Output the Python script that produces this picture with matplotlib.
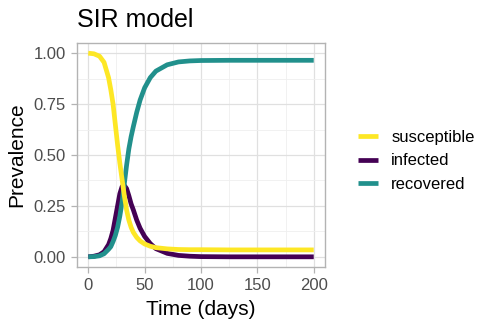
import matplotlib
matplotlib.use("Agg")
import matplotlib.pyplot as plt
from matplotlib.lines import Line2D

plt.rcParams['font.family'] = ['Liberation Sans', 'DejaVu Sans']

# values
days = [0, 5, 10, 14, 18, 20, 22, 24, 26, 28, 30, 32, 34, 36, 38, 40, 43, 46,
        50, 55, 60, 70, 80, 90, 100, 125, 150, 175, 200]
susceptible = [1.000, 0.997, 0.985, 0.955, 0.88, 0.82, 0.75, 0.65, 0.55, 0.46,
               0.38, 0.30, 0.23, 0.18, 0.145, 0.12, 0.095, 0.078, 0.063, 0.052,
               0.045, 0.039, 0.036, 0.035, 0.035, 0.034, 0.034, 0.034, 0.034]
infected = [0.000, 0.003, 0.010, 0.025, 0.06, 0.09, 0.13, 0.19, 0.25, 0.31,
            0.345, 0.35, 0.335, 0.30, 0.26, 0.23, 0.18, 0.14, 0.10, 0.065,
            0.04, 0.017, 0.007, 0.003, 0.001, 0.0, 0.0, 0.0, 0.0]
recovered = [0.000, 0.001, 0.005, 0.015, 0.037, 0.05, 0.075, 0.105, 0.145, 0.20,
             0.27, 0.36, 0.45, 0.53, 0.59, 0.64, 0.71, 0.77, 0.83, 0.88,
             0.912, 0.943, 0.957, 0.962, 0.964, 0.965, 0.965, 0.965, 0.965]

x_ticks = [0, 50, 100, 150, 200]
y_ticks = [0.00, 0.25, 0.50, 0.75, 1.00]

colors = {"infected": "#440154", "recovered": "#21908C", "susceptible": "#FDE725"}

fig = plt.figure(figsize=(4.79, 3.21), dpi=100)
ax = fig.add_axes([77 / 479, 54 / 321, 248 / 479, 224 / 321])

lw = 3.4
# drawn in factor order: infected, recovered, susceptible
ax.plot(days, infected, color=colors["infected"], lw=lw, solid_capstyle="butt")
ax.plot(days, recovered, color=colors["recovered"], lw=lw, solid_capstyle="butt")
ax.plot(days, susceptible, color=colors["susceptible"], lw=lw, solid_capstyle="butt")

ax.set_xlim(-10, 210)
ax.set_ylim(-0.05, 1.05)
ax.set_xticks(x_ticks)
ax.set_yticks(y_ticks)
ax.set_yticklabels([f"{v:.2f}" for v in y_ticks])
ax.set_xticks([25, 75, 125, 175], minor=True)
ax.set_yticks([0.125, 0.375, 0.625, 0.875], minor=True)

ax.grid(True, which="major", color="#E0E0E0", lw=0.9)
ax.grid(True, which="minor", color="#EFEFEF", lw=0.6)
ax.set_axisbelow(True)
for s in ax.spines.values():
    s.set_color("#B3B3B3")
    s.set_linewidth(1.0)

ax.tick_params(which="major", length=4, width=0.9, color="#B3B3B3",
               labelsize=12, labelcolor="#4D4D4D", pad=4)
ax.tick_params(which="minor", length=0)

ax.set_xlabel("Time (days)", fontsize=15, color="black", labelpad=5)
ax.set_ylabel("Prevalence", fontsize=15, color="black", labelpad=5)
fig.text(77 / 479, 1 - 20 / 321, "SIR model", fontsize=18, ha="left", va="center")

handles = [Line2D([], [], color=colors[k], lw=lw, solid_capstyle="butt")
           for k in ["susceptible", "infected", "recovered"]]
fig.legend(handles, ["susceptible", "infected", "recovered"],
           loc="center left", bbox_to_anchor=(358 / 479, 1 - 161 / 321),
           frameon=False, fontsize=12, handlelength=1.2, handletextpad=0.8,
           labelspacing=0.5, borderpad=0, borderaxespad=0)

fig.savefig("out.png", dpi=100)
